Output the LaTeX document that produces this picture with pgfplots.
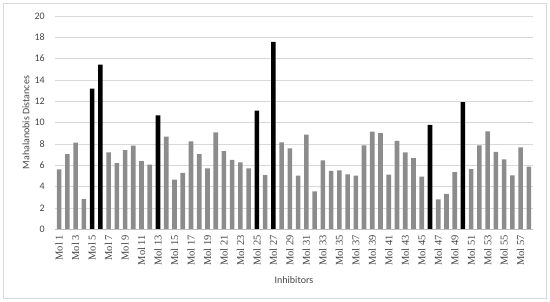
\documentclass[border=0pt]{standalone}
\usepackage{fontspec}
\setmainfont{Carlito}
\newfontfamily\serifx{Liberation Serif}
\usepackage{pgfplots}
\pgfplotsset{compat=1.18}
\definecolor{bargray}{RGB}{140,140,140}
\definecolor{gridgray}{RGB}{217,217,217}
\definecolor{axgray}{RGB}{191,191,191}
\definecolor{txt}{RGB}{70,70,70}
\begin{document}
\begin{tikzpicture}
\path[use as bounding box] (0pt,0pt) rectangle (550pt,302pt);
\draw[gridgray, line width=0.8pt] (3.5pt,3.5pt) rectangle (546.5pt,298.5pt);
\begin{axis}[
 at={(55pt,72.7pt)}, anchor=south west,
 width=478pt, height=213.3pt, scale only axis,
 xmin=0.5, xmax=58.5, ymin=0, ymax=20,
 ytick={0,2,...,20},
 xtick={1,3,...,57},
 xticklabels={Mol~1,Mol~3,Mol~5,Mol~7,Mol~9,Mol~11,Mol~13,Mol~15,Mol~17,Mol~19,Mol~21,Mol~23,Mol~25,Mol~27,Mol~29,Mol~31,Mol~33,Mol~35,Mol~37,Mol~39,Mol~41,Mol~43,Mol~45,Mol~47,Mol~49,Mol~51,Mol~53,Mol~55,Mol~57},
 axis line style={draw=none},
 ymajorgrids, grid style={gridgray, line width=0.6pt},
 major tick length=0pt,
 yticklabel style={font=\fontsize{10}{11}\selectfont, text=txt, anchor=east, inner sep=0pt},
 xticklabel style={font=\serifx\fontsize{10.5}{11}\selectfont, text=txt, rotate=90, anchor=east, inner sep=0pt},
 xticklabel shift=5.5pt,
 yticklabel shift=10pt,
 /pgf/number format/assume math mode=true,
 ylabel={Mahalanobis Distances}, xlabel={Inhibitors},
 label style={font=\fontsize{10}{11}\selectfont, text=txt},
 ylabel style={at={(axis description cs:-0.0607,0.5)}, anchor=center},
 xlabel style={at={(axis description cs:0.5,-0.238)}, anchor=center},
 ybar, bar width=4.6pt, bar shift=0pt,
 clip=false,
]
\addplot[draw=none, fill=bargray] coordinates {
(1,5.62) (2,7.06) (3,8.12) (4,2.84) (7,7.22) (8,6.21) (9,7.43) (10,7.84)
(11,6.40) (12,6.06) (14,8.68) (15,4.65) (16,5.30) (17,8.25) (18,7.06) (19,5.72) (20,9.09)
(21,7.34) (22,6.50) (23,6.28) (24,5.72) (26,5.09) (28,8.15) (29,7.59) (30,5.03)
(31,8.87) (32,3.56) (33,6.47) (34,5.47) (35,5.53) (36,5.15) (37,5.03) (38,7.87) (39,9.16) (40,9.02)
(41,5.12) (42,8.28) (43,7.22) (44,6.68) (45,4.93) (47,2.81) (48,3.31) (49,5.37)
(51,5.65) (52,7.87) (53,9.18) (54,7.25) (55,6.56) (56,5.06) (57,7.69) (58,5.87)
};
\addplot[draw=none, fill=black] coordinates {
(5,13.20) (6,15.43) (13,10.68) (25,11.12) (27,17.58) (46,9.80) (50,11.93)
};
\draw[axgray, line width=0.8pt] (axis cs:0.5,0) -- (axis cs:58.5,0);
\end{axis}
\end{tikzpicture}
\end{document}
